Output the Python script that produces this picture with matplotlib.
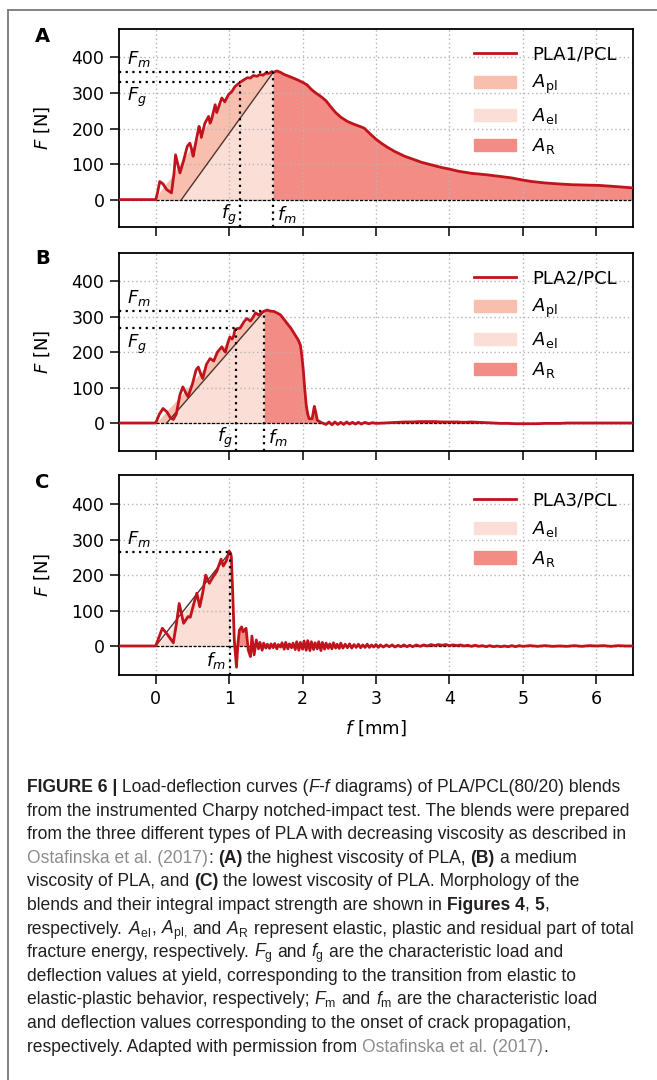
import matplotlib
matplotlib.use("Agg")
import matplotlib.pyplot as plt
import numpy as np
from matplotlib import font_manager
from matplotlib.lines import Line2D
from matplotlib.patches import Patch

# ---------------------------------------------------------------- data
# panel A: PLA1/PCL  (deflection f [mm], load F [N])
f_A = [-0.5, 0.0, 0.02, 0.055, 0.10, 0.15, 0.215, 0.25, 0.27, 0.30, 0.33, 0.38,
       0.43, 0.466, 0.49, 0.51, 0.55, 0.59, 0.61, 0.62, 0.67, 0.72, 0.74, 0.76,
       0.81, 0.83, 0.86, 0.90, 0.94, 0.99, 1.04, 1.08, 1.12, 1.15, 1.20, 1.25,
       1.29, 1.33, 1.38, 1.42, 1.46, 1.50, 1.54, 1.58, 1.60, 1.65, 1.70, 1.75,
       1.80, 1.85, 1.93, 2.00, 2.06, 2.12, 2.18, 2.25, 2.32, 2.38, 2.45, 2.52,
       2.61, 2.70, 2.78, 2.84, 2.92, 3.00, 3.07, 3.15, 3.25, 3.39, 3.50, 3.62,
       3.75, 3.90, 4.00, 4.12, 4.30, 4.50, 4.70, 4.85, 5.00, 5.12, 5.30, 5.50,
       5.67, 5.85, 6.04, 6.25, 6.50]
F_A = [0, 0, 15, 51, 44, 28, 19, 75, 126, 100, 75, 110,
       150, 159, 140, 122, 165, 206, 190, 175, 215, 234, 215, 225,
       267, 245, 262, 286, 275, 295, 305, 318, 325, 330, 337, 343,
       342, 349, 347, 352, 350, 356, 355, 360, 358, 362, 358, 352,
       348, 344, 337, 330, 323, 310, 300, 290, 278, 262, 245, 232,
       220, 212, 206, 201, 185, 170, 159, 148, 136, 122, 114, 105,
       98, 90, 86, 80, 74, 70, 65, 61, 55, 51, 47, 44,
       42, 41, 40, 37, 33]
# mean curve bounding the filled energy areas
fs_A = [0.0, 0.05, 0.1, 0.2, 0.3, 0.4, 0.5, 0.6, 0.7, 0.8, 0.9, 1.0, 1.1, 1.2,
        1.3, 1.4, 1.5, 1.6]
Fs_A = [0, 20, 35, 60, 92, 122, 150, 180, 212, 245, 272, 295, 318, 335,
        344, 350, 355, 358]
f0_A, fg_A, Fg_A, fm_A, Fm_A = 0.35, 1.15, 332, 1.60, 358

# panel B: PLA2/PCL
f_B = [-0.5, 0.0, 0.05, 0.10, 0.15, 0.20, 0.24, 0.28, 0.33, 0.37, 0.41, 0.44,
       0.50, 0.55, 0.58, 0.61, 0.64, 0.69, 0.74, 0.77, 0.79, 0.84, 0.90, 0.93,
       0.95, 0.98, 1.01, 1.04, 1.06, 1.08, 1.10, 1.15, 1.20, 1.24, 1.29, 1.33,
       1.36, 1.40, 1.44, 1.48, 1.52, 1.56, 1.61, 1.66, 1.70, 1.75, 1.79, 1.84,
       1.90, 1.94, 1.97, 1.99, 2.01, 2.03, 2.05, 2.07, 2.09, 2.13, 2.16, 2.18,
       2.20, 2.24, 2.27, 2.32, 2.36, 2.40, 2.44, 2.48, 2.52, 2.56, 2.60, 2.64,
       2.68, 2.72, 2.76, 2.80, 2.85, 2.90, 2.95, 3.0, 3.1, 3.2, 3.3, 3.4,
       3.5, 3.6, 3.7, 3.8, 3.9, 4.0, 4.1, 4.2, 4.3, 4.4, 4.5, 4.6,
       4.7, 4.8, 4.9, 5.0, 5.1, 5.2, 5.3, 5.4, 5.5, 5.6, 5.8, 6.0,
       6.2, 6.5]
F_B = [0, 0, 25, 41, 32, 15, 10, 25, 80, 102, 85, 74,
       110, 150, 158, 140, 126, 165, 182, 178, 175, 200, 215, 205,
       200, 225, 243, 237, 245, 264, 266, 268, 285, 295, 288, 300,
       311, 305, 312, 316, 319, 316, 315, 310, 305, 292, 281, 268,
       248, 235, 220, 190, 149, 95, 50, 25, 12, 12, 47, 30,
       8, 3, 0, -4, 3, -5, 3, -4, 2, -4, 3, -3,
       2, -3, 2, -3, 2, -2, 1, -1, 0, 1, 2, 3,
       3, 4, 4, 4, 3, 3, 3, 2, 3, 2, 1, 0,
       -1, -1, -2, -2, -2, -2, -1, -1, -1, 0, 0, 0,
       0, 0]
fs_B = [0.0, 0.1, 0.2, 0.3, 0.4, 0.5, 0.6, 0.7, 0.8, 0.9, 1.0, 1.1, 1.2, 1.3,
        1.4, 1.48]
Fs_B = [0, 22, 45, 68, 92, 116, 140, 164, 188, 211, 235, 260, 281, 297,
        309, 316]
f0_B, fg_B, Fg_B, fm_B, Fm_B = 0.15, 1.10, 267, 1.48, 316

# panel C: PLA3/PCL
f_C = [-0.5, 0.0, 0.04, 0.09, 0.15, 0.24, 0.28, 0.32, 0.38, 0.44, 0.47, 0.52,
       0.56, 0.60, 0.64, 0.68, 0.73, 0.78, 0.83, 0.89, 0.92, 0.96, 1.00, 1.02,
       1.03, 1.05, 1.07, 1.10, 1.12, 1.14, 1.17, 1.19, 1.23, 1.26, 1.29, 1.31,
       1.34, 1.37, 1.40, 1.42, 1.45, 1.47, 1.50, 1.52, 1.55, 1.57, 1.60, 1.62,
       1.65, 1.67, 1.70, 1.72, 1.75, 1.77, 1.80, 1.82, 1.85, 1.87, 1.90, 1.92,
       1.95, 1.97, 2.00, 2.02, 2.05, 2.07, 2.10, 2.12, 2.15, 2.17, 2.20, 2.22,
       2.25, 2.27, 2.30, 2.32, 2.35, 2.37, 2.40, 2.42, 2.45, 2.47, 2.50, 2.52,
       2.55, 2.58, 2.61, 2.64, 2.67, 2.70, 2.73, 2.76, 2.79, 2.82, 2.85, 2.88,
       2.91, 2.94, 2.97, 3.00, 3.03, 3.06, 3.10, 3.14, 3.18, 3.22, 3.26, 3.30,
       3.34, 3.38, 3.42, 3.46, 3.50, 3.55, 3.60, 3.65, 3.70, 3.75, 3.80, 3.85,
       3.90, 3.95, 4.00, 4.05, 4.10, 4.15, 4.20, 4.25, 4.30, 4.35, 4.40, 4.45,
       4.50, 4.55, 4.60, 4.65, 4.70, 4.75, 4.80, 4.85, 4.90, 4.95, 5.00, 5.1,
       5.2, 5.3, 5.4, 5.5, 5.6, 5.7, 5.8, 5.9, 6.0, 6.1, 6.2, 6.3,
       6.4, 6.5]
F_C = [0, 0, 22, 50, 35, 9, 60, 120, 64, 83, 81, 120,
       149, 111, 150, 200, 177, 195, 210, 245, 226, 240, 268, 262,
       252, 141, 17, -60, 8, 45, 54, 40, 50, -11, -30, 28,
       -25, 17, -8, 10, -12, 8, -6, 5, -7, 6, -5, 7,
       -8, 4, -3, 9, -9, 10, -8, 6, -5, 8, -10, 12,
       -12, 10, -9, 14, -12, 15, -13, 12, -10, 9, -8, 12,
       -13, 10, -9, 8, -7, 6, -8, 9, -6, 5, -7, 8,
       -6, 5, -5, 6, -6, 4, -4, 5, -5, 3, -4, 5,
       -4, 3, -3, 4, -4, 3, -3, 3, -2, 3, -3, 2,
       -2, 3, -2, 2, -2, 3, -1, 3, 0, 4, 1, 4,
       2, 4, 1, 3, 1, 3, 0, 2, -1, 2, -1, 1,
       -2, 1, -2, 0, -2, 0, -2, 1, -2, 1, -1, 1,
       -1, 1, -1, 0, -1, 1, -1, 1, 0, 1, -1, 1,
       0, 0]
fs_C = [0.0, 0.1, 0.2, 0.3, 0.4, 0.5, 0.6, 0.7, 0.8, 0.9, 1.01]
Fs_C = [0, 22, 45, 75, 100, 125, 150, 180, 205, 232, 265]
f0_C, fm_C, Fm_C = 0.0, 1.01, 265
C_AR_RANGE = (1.12, 1.23)

series_names = ["PLA1/PCL", "PLA2/PCL", "PLA3/PCL"]
panel_letters = ["A", "B", "C"]
area_labels = {"pl": r"$A_{\mathrm{pl}}$", "el": r"$A_{\mathrm{el}}$", "R": r"$A_{\mathrm{R}}$"}
x_ticks = [0, 1, 2, 3, 4, 5, 6]
y_ticks = [0, 100, 200, 300, 400]

caption_lines = [
    [("FIGURE 6 | ", "b"), ("Load-deflection curves (", "n"), ("F-f", "i"),
     (" diagrams) of PLA/PCL(80/20) blends", "n")],
    [("from the instrumented Charpy notched-impact test. The blends were prepared", "n")],
    [("from the three different types of PLA with decreasing viscosity as described in", "n")],
    [("Ostafinska et al. (2017)", "g"), (": ", "n"), ("(A)", "b"),
     (" the highest viscosity of PLA, ", "n"), ("(B)", "b"), (" a medium", "n")],
    [("viscosity of PLA, and ", "n"), ("(C)", "b"),
     (" the lowest viscosity of PLA. Morphology of the", "n")],
    [("blends and their integral impact strength are shown in ", "n"), ("Figures 4", "b"),
     (", ", "n"), ("5", "b"), (",", "n")],
    [("respectively. ", "n"), (r"$A_{\mathrm{el}}$", "n"), (", ", "n"),
     (r"$A_{\mathrm{pl,}}$", "n"), (" and ", "n"), (r"$A_{\mathrm{R}}$", "n"),
     (" represent elastic, plastic and residual part of total", "n")],
    [("fracture energy, respectively. ", "n"), (r"$F_{\mathrm{g}}$", "n"), (" and ", "n"),
     (r"$f_{\mathrm{g}}$", "n"), (" are the characteristic load and", "n")],
    [("deflection values at yield, corresponding to the transition from elastic to", "n")],
    [("elastic-plastic behavior, respectively; ", "n"), (r"$F_{\mathrm{m}}$", "n"),
     (" and ", "n"), (r"$f_{\mathrm{m}}$", "n"), (" are the characteristic load", "n")],
    [("and deflection values corresponding to the onset of crack propagation,", "n")],
    [("respectively. Adapted with permission from ", "n"), ("Ostafinska et al. (2017)", "g"),
     (".", "n")],
]

# ---------------------------------------------------------------- style
LINE_C = "#c0131c"
PL_C = "#f8bfae"
EL_C = "#fbdfd6"
R_C = "#f38c84"
DIAG_C = "#4d3530"
W, H = 657, 1080
XLIM = (-0.5, 6.5)

installed = {f.name for f in font_manager.fontManager.ttflist}
CAP_FONT = "Liberation Sans Narrow" if "Liberation Sans Narrow" in installed else "Liberation Sans"
plt.rcParams["mathtext.rm"] = CAP_FONT
plt.rcParams["mathtext.it"] = CAP_FONT + ":italic"
plt.rcParams["mathtext.bf"] = CAP_FONT + ":bold"


def draw_panel(ax, f, F, fs, Fs, f0, fm, Fm, ylim, name, fg=None, Fg=None, ar_range=None):
    f = np.asarray(f)
    F = np.asarray(F)
    if fg is not None:
        ax.fill_between(fs, 0, Fs, color=PL_C, lw=0)
        ax.fill([f0, fm, fm], [0, Fm, 0], color=EL_C, lw=0)
        ax.fill_between(f, 0, F, where=f >= fm, color=R_C, lw=0)
    else:
        ax.fill_between(fs, 0, Fs, color=EL_C, lw=0)
        ax.fill_between(f, 0, F, where=(f >= ar_range[0]) & (f <= ar_range[1]),
                        color=R_C, lw=0)
    ax.plot([f0, fm], [0, Fm], color=DIAG_C, lw=1.0, zorder=2.5)
    ax.plot([0, XLIM[1]], [0, 0], color="k", lw=0.9, ls=(0, (2.5, 1.2)), zorder=2.2)
    ax.plot(f, F, color=LINE_C, lw=2.0, zorder=3)

    dot = dict(color="k", lw=1.6, ls=(0, (1, 2)), zorder=4)
    ax.plot([XLIM[0], fm], [Fm, Fm], **dot)
    ax.plot([fm, fm], [ylim[0], Fm], **dot)
    ax.text(-0.39, Fm + 38, r"$F_m$", fontsize=13, va="center", ha="left")
    if fg is not None:
        ax.plot([XLIM[0], fg], [Fg, Fg], **dot)
        ax.plot([fg, fg], [ylim[0], Fg], **dot)
        ax.text(-0.39, Fg - 44, r"$F_g$", fontsize=13, va="center", ha="left")
        ax.text(fg - 0.05, -42, r"$f_g$", fontsize=13, va="center", ha="right")
        ax.text(fm + 0.05, -42, r"$f_m$", fontsize=13, va="center", ha="left")
    else:
        ax.text(fm - 0.05, -42, r"$f_m$", fontsize=13, va="center", ha="right")

    handles = [Line2D([], [], color=LINE_C, lw=2.0)]
    labels = [name]
    if fg is not None:
        handles.append(Patch(color=PL_C))
        labels.append(area_labels["pl"])
    handles += [Patch(color=EL_C), Patch(color=R_C)]
    labels += [area_labels["el"], area_labels["R"]]
    leg = ax.legend(handles, labels, loc="upper right", frameon=False, fontsize=13,
                    handlelength=2.3, handletextpad=0.9, labelspacing=0.55)
    for t in leg.get_texts():
        t.set_math_fontfamily("dejavusans")

    ax.set_xlim(*XLIM)
    ax.set_ylim(*ylim)
    ax.set_xticks(x_ticks)
    ax.set_yticks(y_ticks)
    ax.set_axisbelow("line")
    ax.grid(True, ls=(0, (1, 2)), color="#b5b5b5", lw=1.0)
    ax.tick_params(labelsize=12.5, length=6.5, width=1.1, pad=4)
    for sp in ax.spines.values():
        sp.set_linewidth(1.3)
    ax.set_ylabel(r"$F$ [N]", fontsize=13)
    ax.yaxis.set_label_coords(-0.13, 0.5)


fig = plt.figure(figsize=(W / 100, H / 100), dpi=100)
left, width = 119 / W, 514 / W
ax_A = fig.add_axes([left, 1 - 227 / H, width, 198 / H])
ax_B = fig.add_axes([left, 1 - 451 / H, width, 198 / H])
ax_C = fig.add_axes([left, 1 - 675 / H, width, 200 / H])

draw_panel(ax_A, f_A, F_A, fs_A, Fs_A, f0_A, fm_A, Fm_A, (-77, 480), series_names[0],
           fg=fg_A, Fg=Fg_A)
draw_panel(ax_B, f_B, F_B, fs_B, Fs_B, f0_B, fm_B, Fm_B, (-79, 480), series_names[1],
           fg=fg_B, Fg=Fg_B)
draw_panel(ax_C, f_C, F_C, fs_C, Fs_C, f0_C, fm_C, Fm_C, (-82, 483), series_names[2],
           ar_range=C_AR_RANGE)
ax_A.tick_params(labelbottom=False)
ax_B.tick_params(labelbottom=False)
ax_C.set_xlabel(r"$f$ [mm]", fontsize=13, labelpad=8)

for ax, letter, ytop in zip([ax_A, ax_B, ax_C], panel_letters, [37, 259, 482]):
    fig.text(35 / W, 1 - ytop / H, letter, fontsize=14, fontweight="bold", va="center")

# frame around the figure
fig.add_artist(Line2D([8 / W, 8 / W], [0, 1 - 10 / H], transform=fig.transFigure,
                      color="#7a7a7a", lw=1.3))
fig.add_artist(Line2D([8 / W, 1], [1 - 10 / H, 1 - 10 / H], transform=fig.transFigure,
                      color="#7a7a7a", lw=1.3))

# ---------------------------------------------------------------- caption
renderer = fig.canvas.get_renderer()
STYLES = {
    "n": dict(color="#231f20"),
    "b": dict(color="#231f20", fontweight="bold"),
    "i": dict(color="#231f20", fontstyle="italic"),
    "g": dict(color="#8d8d8d"),
}


def text_width(s, fs, style):
    t = fig.text(0, 0, s, fontsize=fs, family=CAP_FONT, math_fontfamily="custom",
                 **STYLES[style])
    w = t.get_window_extent(renderer).width
    t.remove()
    return w


def draw_line(segments, x0, y, fs, draw=True):
    space = text_width("a a", fs, "n") - text_width("aa", fs, "n")
    x = x0
    for s, style in segments:
        core = s.strip(" ")
        lead = len(s) - len(s.lstrip(" "))
        trail = len(s) - len(s.rstrip(" "))
        x += lead * space
        if core:
            if draw:
                fig.text(x / W, 1 - y / H, core, fontsize=fs, family=CAP_FONT,
                         math_fontfamily="custom", va="baseline", **STYLES[style])
            x += text_width(core, fs, style)
        x += trail * space
    return x - x0


base_fs = 12
w1 = draw_line(caption_lines[0], 0, 0, base_fs, draw=False)
cap_fs = base_fs * 598 / w1
for i, segs in enumerate(caption_lines):
    draw_line(segs, 27, 792 + i * 23.6, cap_fs)

fig.savefig("out.png", dpi=100)
